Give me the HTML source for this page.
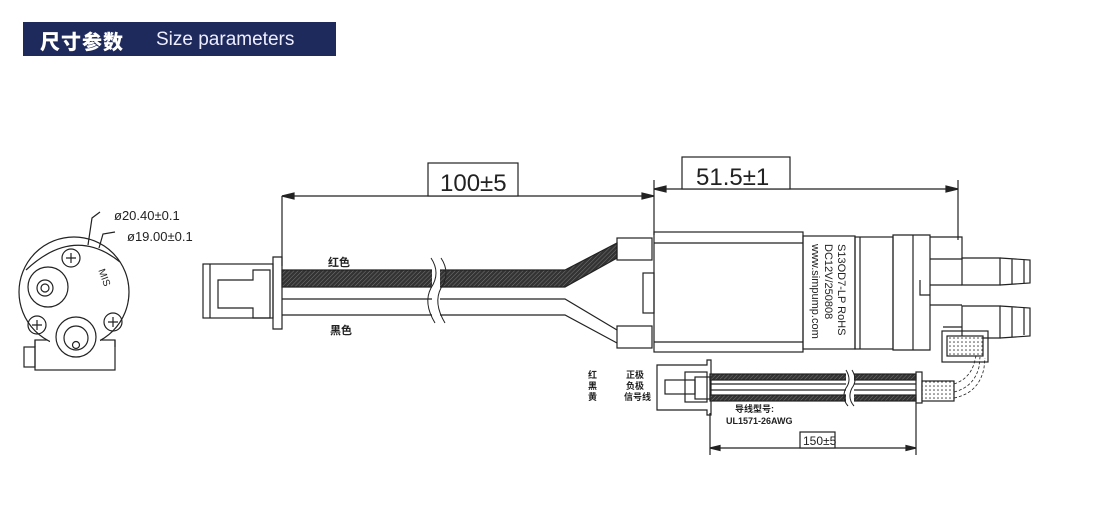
<!DOCTYPE html>
<html><head><meta charset="utf-8"><style>
html,body{margin:0;padding:0;background:#fff;width:1108px;height:514px;overflow:hidden}
.hd{position:absolute;left:23px;top:22px;width:313px;height:34px;background:#1f2a5c;color:#fff;font-family:"Liberation Sans","Noto Sans CJK SC",sans-serif;}
.hd b{position:absolute;left:17px;top:4px;font-size:20px;letter-spacing:1px;font-weight:900}
.hd span{position:absolute;left:133px;top:7px;font-size:19px;color:#eef}
svg{position:absolute;left:0;top:0}
text{font-family:"Liberation Sans","Noto Sans CJK SC",sans-serif;fill:#222}
</style></head><body>
<div class="hd"><b>尺寸参数</b><span>Size parameters</span></div>
<svg width="1108" height="514" viewBox="0 0 1108 514" fill="none" stroke="#222" stroke-width="1.2">
<defs><pattern id="h" width="3" height="3" patternUnits="userSpaceOnUse" patternTransform="rotate(45)"><rect width="3" height="3" fill="#333" stroke="none"/><line x1="0" y1="0" x2="0" y2="3" stroke="#777" stroke-width="1"/></pattern>
<pattern id="d" width="4" height="4" patternUnits="userSpaceOnUse"><rect width="4" height="4" fill="#fff" stroke="none"/><circle cx="2" cy="2" r="0.8" fill="#444" stroke="none"/></pattern></defs>
<!-- end view -->
<rect x="35" y="340" width="80" height="30" fill="#fff"/><rect x="24" y="347" width="11" height="20"/>
<circle cx="74" cy="292" r="55" fill="#fff"/>
<path d="M26 270 Q74 225 120 262" />
<circle cx="48" cy="287" r="20"/><circle cx="45" cy="288" r="8"/><circle cx="45" cy="288" r="4"/>
<circle cx="71" cy="258" r="9"/><path d="M66 258h10M71 253v10"/>
<circle cx="37" cy="325" r="9"/><path d="M32 325h10M37 320v10"/>
<circle cx="113" cy="322" r="9"/><path d="M108 322h10M113 317v10"/>
<rect x="50" y="340" width="50" height="12" fill="#fff" stroke="none"/>
<circle cx="76" cy="337" r="20" fill="#fff"/><circle cx="76" cy="338" r="12"/><circle cx="76" cy="345" r="3.5"/>
<path d="M35 347v-7M115 340v7"/>
<text x="95" y="275" font-size="10" transform="rotate(70 100 275)" stroke="none">MIS</text>
<path d="M88 245 L92 218 L100 212" /><path d="M99 248 L103 234 L115 232"/>
<text x="114" y="220" font-size="13" stroke="none">ø20.40±0.1</text>
<text x="127" y="241" font-size="13" stroke="none">ø19.00±0.1</text>
<!-- left connector -->
<rect x="203" y="264" width="70" height="54"/><path d="M210 264v54"/>
<path d="M273 257h9v72h-9z"/>
<path d="M218 280h35v-10h17v48h-17v-10h-35z" />
<!-- dims 100 -->
<path d="M282 196v70M282 196h372"/><path d="M282 196l12-3v6z M654 196l-12-3v6z" fill="#222"/>
<rect x="428" y="163" width="90" height="33" fill="#fff"/><text x="440" y="191" font-size="24" stroke="none">100±5</text>
<!-- dim 51.5 -->
<path d="M654 180v55M958 180v60M654 189h304"/><path d="M654 189l12-3v6z M958 189l-12-3v6z" fill="#222"/>
<rect x="682" y="157" width="108" height="32" fill="#fff"/><text x="696" y="185" font-size="24" stroke="none">51.5±1</text>
<!-- wires -->
<path d="M282 270H565L617 243V258L565 287H282Z" fill="url(#h)"/>
<path d="M282 299H565L617 330M282 315H565L617 343"/>
<rect x="432" y="258" width="8" height="66" fill="#fff" stroke="none"/>
<path d="M431 258q10 15 0 30q-8 15 4 35M441 258q10 15 0 30q-8 15 4 35" stroke-width="1"/>
<text x="328" y="266" font-size="11" font-weight="bold" stroke="none">红色</text>
<text x="330" y="334" font-size="11" font-weight="bold" stroke="none">黑色</text>
<!-- motor -->
<rect x="617" y="238" width="35" height="22"/><rect x="617" y="326" width="35" height="22"/>
<rect x="643" y="273" width="11" height="40"/>
<rect x="654" y="232" width="149" height="120"/><path d="M654 243h149M654 342h149"/>
<rect x="803" y="236" width="52" height="113"/>
<text x="838" y="244" font-size="11" transform="rotate(90 838 244)" stroke="none">S13OD7-LP  RoHS</text>
<text x="825" y="244" font-size="11" transform="rotate(90 825 244)" stroke="none">DC12V/250808</text>
<text x="812" y="244" font-size="11" transform="rotate(90 812 244)" stroke="none">www.simpump.com</text>
<rect x="855" y="237" width="38" height="112"/><path d="M860 237v112"/>
<path d="M893 235h20v115h-20z M913 235h17v115h-17z M930 237h32v22h-32 M930 285h32 M930 305h32 M943 327h19"/>
<path d="M920 280v15h10"/>
<!-- outlets -->
<path d="M962 258h38v27h-38z M962 306h38v32h-38z"/>
<path d="M1000 258l30 2v23l-30 2 M1012 259v25 M1024 260v23"/>
<path d="M1000 306l30 2v28l-30 2 M1012 307v30 M1024 308v27"/>
<rect x="942" y="331" width="46" height="31"/><rect x="947" y="336" width="36" height="20" fill="url(#d)"/>
<!-- lower cable -->
<path d="M657 365h50v-5h4v55h-4v-5h-50z"/>
<rect x="665" y="380" width="30" height="14"/><rect x="695" y="377" width="15" height="22"/><rect x="685" y="372" width="22" height="30"/>
<rect x="710" y="374" width="206" height="6" fill="url(#h)"/>
<path d="M710 384h206M710 390h206"/>
<rect x="710" y="395" width="206" height="6" fill="url(#h)"/>
<rect x="846" y="370" width="8" height="36" fill="#fff" stroke="none"/>
<path d="M846 370q6 10 0 18q-5 10 2 18M852 370q6 10 0 18q-5 10 2 18" stroke-width="1"/>
<rect x="916" y="372" width="6" height="31"/>
<rect x="922" y="381" width="32" height="20" fill="url(#d)"/>
<path d="M954 384q15-5 20-20l2-8M954 392q20-5 25-25l1-10M954 398q25-5 30-30l1-10" stroke-dasharray="3 2" stroke-width="0.8"/>
<text x="588" y="378" font-size="9" font-weight="bold" stroke="none">红</text>
<text x="588" y="389" font-size="9" font-weight="bold" stroke="none">黑</text>
<text x="588" y="400" font-size="9" font-weight="bold" stroke="none">黄</text>
<text x="626" y="378" font-size="9" font-weight="bold" stroke="none">正极</text>
<text x="626" y="389" font-size="9" font-weight="bold" stroke="none">负极</text>
<text x="624" y="400" font-size="9" font-weight="bold" stroke="none">信号线</text>
<text x="735" y="412" font-size="9" font-weight="bold" stroke="none">导线型号:</text>
<text x="726" y="424" font-size="9" font-weight="bold" stroke="none">UL1571-26AWG</text>
<path d="M710 413v42M916 403v52M710 448h206"/><path d="M710 448l10-2.5v5z M916 448l-10-2.5v5z" fill="#222"/>
<rect x="800" y="432" width="35" height="16" fill="#fff"/><text x="803" y="445" font-size="12" stroke="none">150±5</text>
</svg>
</body></html>
